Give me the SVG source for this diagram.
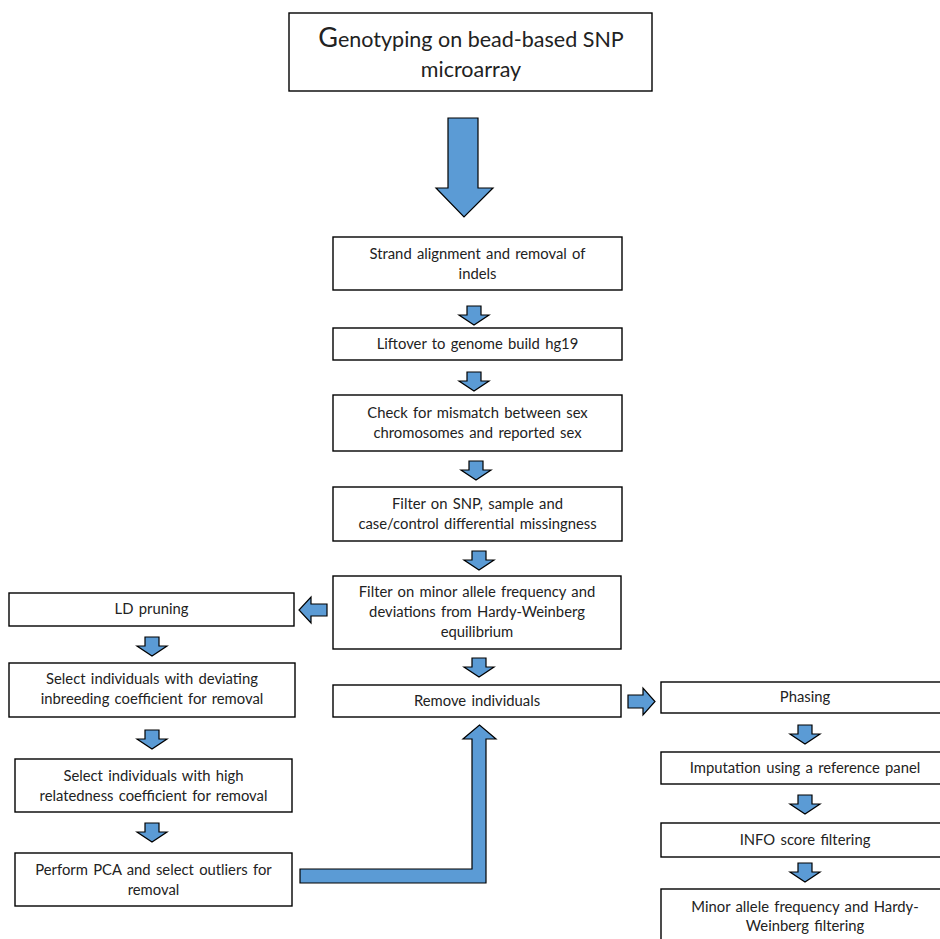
<svg xmlns="http://www.w3.org/2000/svg" width="940" height="939" viewBox="0 0 940 939">
<style>
.box{fill:#fff;stroke:#000;stroke-width:1.4}
.arr{fill:#5B9BD5;stroke:#000;stroke-width:1.2;stroke-linejoin:miter}
text{font-family:Lato,"Open Sans","Liberation Sans",sans-serif;font-size:14.8px;fill:#222;text-anchor:middle;word-spacing:1.5px}
.big{font-size:21.5px;word-spacing:0}
</style>
<defs>
<path id="dn" d="M-7,0 H7 V9 H15 L0,19 L-15,9 H-7 Z"/>
</defs>
<rect width="940" height="939" fill="#fff"/>
<g id="connectors">
<path class="arr" d="M448,118 H478 V188 H493 L464,217 L436,188 H448 Z"/>
<use href="#dn" class="arr" x="474" y="306"/>
<use href="#dn" class="arr" x="474" y="372"/>
<use href="#dn" class="arr" x="476" y="461"/>
<use href="#dn" class="arr" x="479" y="551"/>
<use href="#dn" class="arr" x="479" y="658"/>
<use href="#dn" class="arr" x="152" y="637"/>
<use href="#dn" class="arr" x="152" y="730"/>
<use href="#dn" class="arr" x="152" y="823"/>
<use href="#dn" class="arr" x="805" y="725"/>
<use href="#dn" class="arr" x="805" y="795"/>
<use href="#dn" class="arr" x="805" y="863"/>
<path class="arr" d="M327,604 H311 V597 L299,610 L311,623 V616 H327 Z"/>
<path class="arr" d="M628,695 H643 V688 L655,701.5 L643,715 V708 H628 Z"/>
<path class="arr" d="M300,869 H472 V739 H463 L479.5,725 L496,739 H486 V883 H300 Z"/>
</g>
<g id="n-genotyping">
<rect class="box" x="289" y="13" width="363" height="78"/>
<text class="big" x="471" y="47"><tspan font-size="27">G</tspan>enotyping on bead-based SNP</text>
<text class="big" x="471" y="77">microarray</text>
</g>
<g id="n-strand">
<rect class="box" x="333" y="237" width="289" height="53"/>
<text x="477.5" y="259">Strand alignment and removal of</text>
<text x="477.5" y="279">indels</text>
</g>
<g id="n-liftover">
<rect class="box" x="333" y="328" width="289" height="32"/>
<text x="477.5" y="349">Liftover to genome build hg19</text>
</g>
<g id="n-sexcheck">
<rect class="box" x="333" y="395" width="289" height="56"/>
<text x="477.5" y="418">Check for mismatch between sex</text>
<text x="477.5" y="438">chromosomes and reported sex</text>
</g>
<g id="n-missing">
<rect class="box" x="333" y="487" width="289" height="54"/>
<text x="477.5" y="509">Filter on SNP, sample and</text>
<text x="477.5" y="529">case/control differential missingness</text>
</g>
<g id="n-maf-hwe">
<rect class="box" x="333" y="576" width="288" height="73"/>
<text x="477" y="597">Filter on minor allele frequency and</text>
<text x="477" y="617">deviations from Hardy-Weinberg</text>
<text x="477" y="637">equilibrium</text>
</g>
<g id="n-remove">
<rect class="box" x="333" y="685" width="288" height="32"/>
<text x="477" y="706">Remove individuals</text>
</g>
<g id="n-ld">
<rect class="box" x="9" y="593" width="285" height="33"/>
<text x="151.5" y="614">LD pruning</text>
</g>
<g id="n-inbreeding">
<rect class="box" x="9" y="663" width="286" height="54"/>
<text x="152" y="684">Select individuals with deviating</text>
<text x="152" y="704">inbreeding coefficient for removal</text>
</g>
<g id="n-relatedness">
<rect class="box" x="15" y="759" width="277" height="53"/>
<text x="153.5" y="781">Select individuals with high</text>
<text x="153.5" y="801">relatedness coefficient for removal</text>
</g>
<g id="n-pca">
<rect class="box" x="15" y="853" width="277" height="53"/>
<text x="153.5" y="875">Perform PCA and select outliers for</text>
<text x="153.5" y="895">removal</text>
</g>
<g id="n-phasing">
<rect class="box" x="661" y="682" width="290" height="31"/>
<text x="805" y="702">Phasing</text>
</g>
<g id="n-imputation">
<rect class="box" x="661" y="752" width="290" height="32"/>
<text x="805" y="773">Imputation using a reference panel</text>
</g>
<g id="n-info">
<rect class="box" x="661" y="823" width="290" height="34"/>
<text x="805" y="845">INFO score filtering</text>
</g>
<g id="n-maf-hwe-filter">
<rect class="box" x="661" y="889" width="290" height="60"/>
<text x="805" y="912">Minor allele frequency and Hardy-</text>
<text x="805" y="931">Weinberg filtering</text>
</g>
</svg>
